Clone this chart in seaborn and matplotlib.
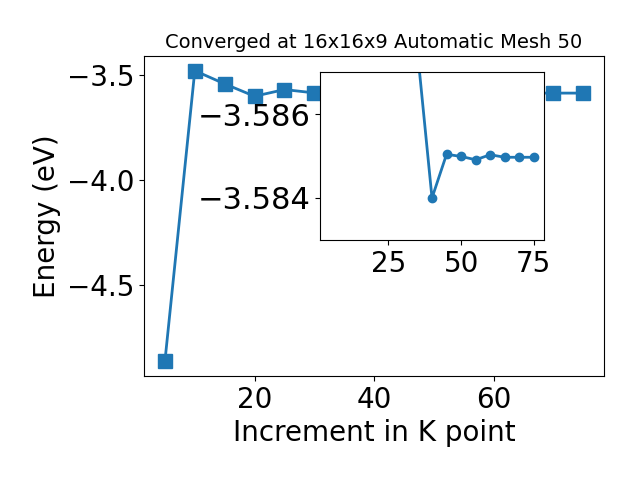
import matplotlib
matplotlib.use('Agg')
import matplotlib.pyplot as plt
import seaborn as sns

# K point increments and total energies (eV)
kpoints = [5, 10, 15, 20, 25, 30, 35, 40, 45, 50, 55, 60, 65, 70, 75]
energies = [-4.865, -3.478, -3.541, -3.600, -3.568, -3.584, -3.5875, -3.5840,
            -3.58504, -3.58499, -3.58491, -3.58503, -3.58497, -3.58497, -3.58497]

# zoomed-in part shown in the inset
inset_kpoints = [35, 40, 45, 50, 55, 60, 65, 70, 75]
inset_energies = [-3.5875, -3.5840, -3.58504, -3.58499, -3.58491, -3.58503,
                  -3.58497, -3.58497, -3.58497]

plt.rcParams['xtick.labelsize'] = 20
plt.rcParams['ytick.labelsize'] = 20
plt.rcParams['axes.labelsize'] = 20

fig = plt.figure(figsize=(6.4, 4.8), dpi=100)
ax = fig.add_axes([0.225, 0.217, 0.719, 0.666])
sns.lineplot(x=kpoints, y=energies, marker='s', markersize=10, linewidth=2,
             markeredgecolor='#1f77b4', markeredgewidth=1, color='#1f77b4', ax=ax)
ax.set_xlabel('Increment in K point')
ax.set_ylabel('Energy (eV)')
ax.set_title('Converged at 16x16x9 Automatic Mesh 50', fontsize=14)

# inset
axins = fig.add_axes([0.5, 0.5, 0.35, 0.35])
sns.lineplot(x=inset_kpoints, y=inset_energies, marker='o', markersize=6, linewidth=2,
             markeredgecolor='#1f77b4', markeredgewidth=1, color='#1f77b4', ax=axins)
axins.set_xlim(1.5, 78.5)
axins.set_ylim(-3.583, -3.587)
axins.set_xticks([25, 50, 75])
axins.set_yticks([-3.586, -3.584])
axins.tick_params(axis='y', labelsize=22)

fig.savefig('out.png', dpi=100)
